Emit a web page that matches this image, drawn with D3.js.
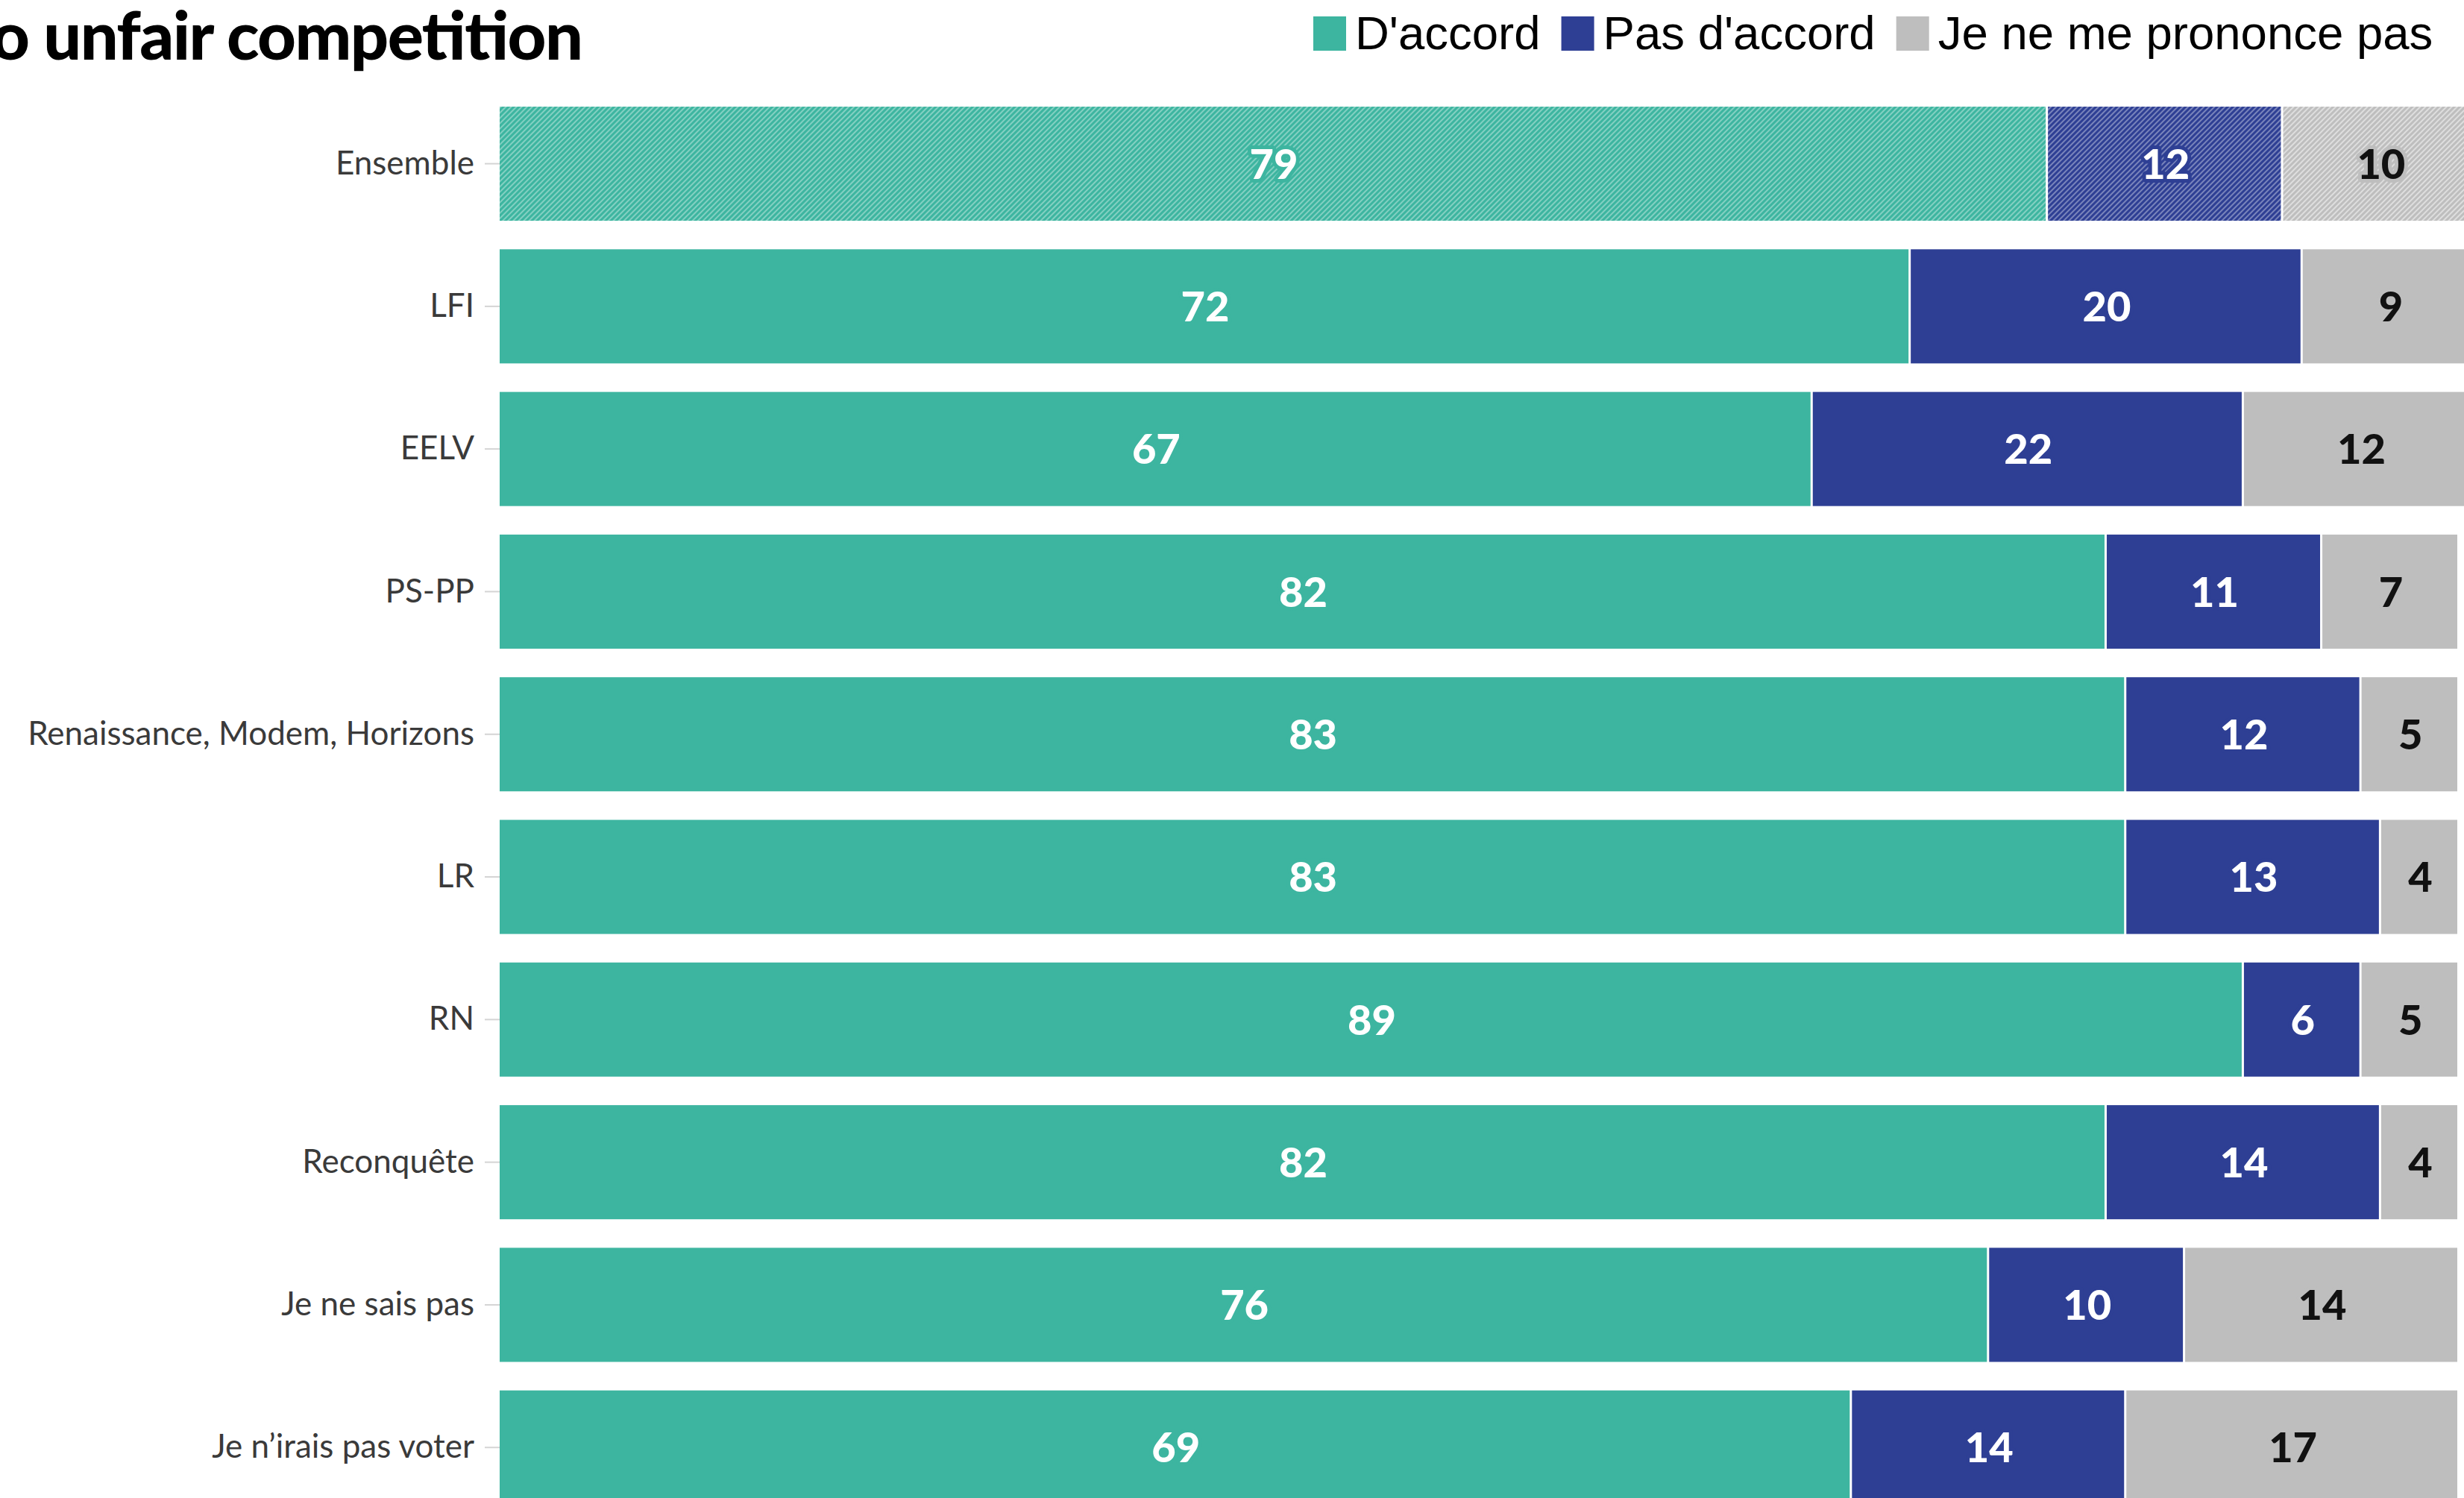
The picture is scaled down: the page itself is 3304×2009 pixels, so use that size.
<!DOCTYPE html>
<html>
<head>
<meta charset="utf-8">
<script src="https://cdn.jsdelivr.net/npm/d3@7"></script>
<style>
  html, body { margin: 0; padding: 0; background: #ffffff; }
  svg { display: block; }
</style>
</head>
<body>
<script>
// ---- Data ----
const categories = ["Ensemble", "LFI", "EELV", "PS-PP", "Renaissance, Modem, Horizons", "LR", "RN", "Reconquête", "Je ne sais pas", "Je n’irais pas voter"];
const seriesNames = ["D'accord", "Pas d'accord", "Je ne me prononce pas"];
const daccord =    [79, 72, 67, 82, 83, 83, 89, 82, 76, 69];
const pasDaccord = [12, 20, 22, 11, 12, 13,  6, 14, 10, 14];
const nsp =        [10,  9, 12,  7,  5,  4,  5,  4, 14, 17];
const titleText = "o unfair competition";
const xTicks = [0, 100];

// ---- Style ----
const W = 3304, H = 2009;
const colors = ["#3db5a0", "#2e3f94", "#bebebe"];
const labelColors = ["#ffffff", "#ffffff", "#111111"];

const svg = d3.select("body").append("svg")
  .attr("width", W).attr("height", H)
  .attr("viewBox", `0 0 ${W} ${H}`);

// hatch patterns for "Ensemble"
const defs = svg.append("defs");
colors.forEach((c, i) => {
  const p = defs.append("pattern")
    .attr("id", "hatch" + i)
    .attr("patternUnits", "userSpaceOnUse")
    .attr("width", 5).attr("height", 5)
    .attr("patternTransform", "rotate(45)");
  p.append("rect").attr("width", 5).attr("height", 5).attr("fill", c);
  p.append("line").attr("x1", 1).attr("y1", 0).attr("x2", 1).attr("y2", 5)
    .attr("stroke", "#ffffff").attr("stroke-opacity", i === 2 ? 0.55 : 0.4).attr("stroke-width", 1.8);
});

// ---- Scales ----
const x = d3.scaleLinear().domain(d3.extent(xTicks)).range([670, 3298]);
const y = d3.scaleBand().domain(categories).range([123.9, 2036.9]).paddingInner(0.2).paddingOuter(0.1);

// ---- Title (cropped at the top-left edge, as in the source image) ----
svg.append("text")
  .attr("x", -12).attr("y", 80)
  .attr("font-family", "Lato, sans-serif")
  .attr("font-weight", 900)
  .attr("font-size", 90)
  .attr("fill", "#000")
  .attr("textLength", 794)
  .attr("lengthAdjust", "spacing")
  .text(titleText);

// ---- Legend ----
const legend = svg.append("g").attr("class", "legend");
let lx = 1761;
seriesNames.forEach((name, i) => {
  const g = legend.append("g");
  g.append("rect").attr("x", lx).attr("y", 22).attr("width", 44).attr("height", 46).attr("fill", colors[i]);
  const t = g.append("text").attr("x", lx + 56).attr("y", 66)
    .attr("font-family", "'Liberation Sans', Arial, sans-serif")
    .attr("font-size", 63.5).attr("fill", "#000").text(name);
  lx = lx + 56 + t.node().getComputedTextLength() + 28;
});

// ---- Axis ----
const axis = svg.append("g")
  .attr("transform", `translate(${x(0)},0)`)
  .call(d3.axisLeft(y).tickSize(20).tickPadding(14));
axis.select(".domain").remove();
axis.selectAll(".tick line").attr("stroke", "#d4d4d4").attr("stroke-width", 2);
axis.selectAll(".tick text")
  .attr("font-family", "Lato, sans-serif")
  .attr("font-size", 44)
  .attr("fill", "#3a3a3a");

// ---- Bars ----
const stackData = categories.map((c, i) => ({
  cat: c, idx: i,
  segs: [daccord[i], pasDaccord[i], nsp[i]]
}));

const rows = svg.append("g").selectAll("g.row").data(stackData).join("g").attr("class", "row");
rows.each(function(d) {
  const g = d3.select(this);
  let acc = 0;
  d.segs.forEach((v, k) => {
    const x0 = x(acc), x1 = x(acc + v);
    const fill = d.idx === 0 ? `url(#hatch${k})` : colors[k];
    g.append("rect")
      .attr("x", x0).attr("y", y(d.cat))
      .attr("width", Math.max(0, x1 - x0 - 3))
      .attr("height", y.bandwidth())
      .attr("fill", fill);
    g.append("text")
      .attr("x", x(acc + v / 2))
      .attr("y", y(d.cat) + y.bandwidth() / 2)
      .attr("dy", "0.36em")
      .attr("text-anchor", "middle")
      .attr("font-family", "Lato, sans-serif")
      .attr("font-weight", 900)
      .attr("font-size", 56)
      .attr("fill", labelColors[k])
      .attr("stroke", colors[k])
      .attr("stroke-width", 10)
      .attr("stroke-linejoin", "round")
      .attr("paint-order", "stroke")
      .text(v);
    acc += v;
  });
});
</script>
</body>
</html>
